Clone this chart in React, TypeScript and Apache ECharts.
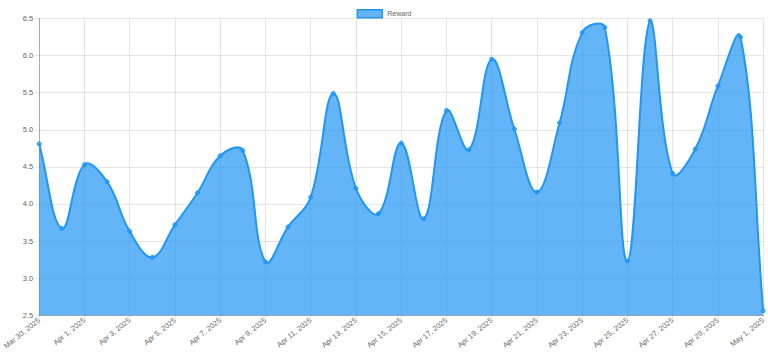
import React, { useEffect, useRef } from "react";
import * as echarts from "echarts";

const categories: string[] = [
  "Mar 30, 2025", "Mar 31, 2025", "Apr 1, 2025", "Apr 2, 2025", "Apr 3, 2025", "Apr 4, 2025",
  "Apr 5, 2025", "Apr 6, 2025", "Apr 7, 2025", "Apr 8, 2025", "Apr 9, 2025", "Apr 10, 2025",
  "Apr 11, 2025", "Apr 12, 2025", "Apr 13, 2025", "Apr 14, 2025", "Apr 15, 2025", "Apr 16, 2025",
  "Apr 17, 2025", "Apr 18, 2025", "Apr 19, 2025", "Apr 20, 2025", "Apr 21, 2025", "Apr 22, 2025",
  "Apr 23, 2025", "Apr 24, 2025", "Apr 25, 2025", "Apr 26, 2025", "Apr 27, 2025", "Apr 28, 2025",
  "Apr 29, 2025", "Apr 30, 2025", "May 1, 2025",
];

const rewardValues: number[] = [
  4.81, 3.67, 4.53, 4.3, 3.63, 3.28, 3.72, 4.15, 4.65, 4.72, 3.22, 3.69,
  4.09, 5.49, 4.21, 3.87, 4.82, 3.8, 5.26, 4.73, 5.95, 5.01, 4.16, 5.09,
  6.31, 6.38, 3.23, 6.47, 4.41, 4.74, 5.59, 6.25, 2.56,
];

const seriesName = "Reward";
const yMin = 2.5;
const yMax = 6.5;
const yStep = 0.5;

const LINE = "#2196f3";
const FILL = "rgba(33,150,243,0.7)";
const TENSION = 0.4;

function buildPaths(pts: number[][], area: { x: number; y: number; width: number; height: number }) {
  const n = pts.length;
  const cpPrev: number[][] = [];
  const cpNext: number[][] = [];
  const clamp = (p: number[]) => [
    Math.min(Math.max(p[0], area.x), area.x + area.width),
    Math.min(Math.max(p[1], area.y), area.y + area.height),
  ];
  for (let i = 0; i < n; i++) {
    const cur = pts[i];
    const prev = i > 0 ? pts[i - 1] : cur;
    const next = i < n - 1 ? pts[i + 1] : cur;
    const d01 = Math.hypot(cur[0] - prev[0], cur[1] - prev[1]);
    const d12 = Math.hypot(next[0] - cur[0], next[1] - cur[1]);
    let s01 = d01 / (d01 + d12);
    let s12 = d12 / (d01 + d12);
    if (isNaN(s01)) s01 = 0;
    if (isNaN(s12)) s12 = 0;
    const fa = TENSION * s01;
    const fb = TENSION * s12;
    cpPrev.push(clamp([cur[0] - fa * (next[0] - prev[0]), cur[1] - fa * (next[1] - prev[1])]));
    cpNext.push(clamp([cur[0] + fb * (next[0] - prev[0]), cur[1] + fb * (next[1] - prev[1])]));
  }
  let d = `M${pts[0][0]},${pts[0][1]}`;
  for (let i = 1; i < n; i++) {
    d += ` C${cpNext[i - 1][0]},${cpNext[i - 1][1]} ${cpPrev[i][0]},${cpPrev[i][1]} ${pts[i][0]},${pts[i][1]}`;
  }
  return d;
}

export default function App() {
  const ref = useRef<HTMLDivElement>(null);
  useEffect(() => {
    if (!ref.current) return;
    const chart = echarts.init(ref.current, undefined, { renderer: "svg" });
    const font = "'Liberation Sans', Arial, Helvetica, sans-serif";
    chart.setOption({
      animation: false,
      textStyle: { fontFamily: font },
      legend: {
        top: 4,
        left: "center",
        itemWidth: 25,
        itemHeight: 8,
        itemGap: 10,
        textStyle: { fontSize: 7, color: "#666", fontFamily: font },
        data: [
          {
            name: seriesName,
            icon: "rect",
            itemStyle: { color: FILL, borderColor: LINE, borderWidth: 1.5 },
          },
        ],
      },
      grid: { left: 39, right: 4, top: 18.5, height: 301.5, containLabel: false },
      xAxis: {
        type: "category",
        data: categories,
        boundaryGap: false,
        axisLine: { show: true, lineStyle: { color: "rgba(0,0,0,0.25)", width: 1 } },
        axisTick: { show: true, interval: 1, length: 4, lineStyle: { color: "rgba(0,0,0,0.1)" } },
        axisLabel: { interval: 1, rotate: 39, fontSize: 7.5, color: "#666", margin: 4, fontFamily: font },
        splitLine: { show: true, interval: 1, lineStyle: { color: "rgba(0,0,0,0.1)", width: 1 } },
      },
      yAxis: {
        type: "value",
        min: yMin,
        max: yMax,
        interval: yStep,
        axisLine: { show: true, lineStyle: { color: "rgba(0,0,0,0.25)", width: 1 } },
        axisTick: { show: true, length: 4, lineStyle: { color: "rgba(0,0,0,0.1)" } },
        axisLabel: { fontSize: 7.5, color: "#666", margin: 6, fontFamily: font, formatter: (v: number) => v.toFixed(1) },
        splitLine: { show: true, lineStyle: { color: "rgba(0,0,0,0.1)", width: 1 } },
      },
      series: [
        {
          name: seriesName,
          type: "custom",
          data: rewardValues.map((v, i) => [i, v]),
          encode: { x: 0, y: 1 },
          itemStyle: { color: FILL, borderColor: LINE },
          renderItem: (params: any, api: any) => {
            if (params.dataIndex !== 0) return null;
            const cs = params.coordSys;
            const area = { x: cs.x, y: cs.y, width: cs.width, height: cs.height };
            const pts = rewardValues.map((v, i) => api.coord([i, v]));
            const bottom = api.coord([0, yMin])[1];
            const lineD = buildPaths(pts, area);
            const areaD = `${lineD} L${pts[pts.length - 1][0]},${bottom} L${pts[0][0]},${bottom} Z`;
            const children: any[] = [
              { type: "path", shape: { pathData: areaD }, style: { fill: FILL, stroke: "none" } },
              { type: "path", shape: { pathData: lineD }, style: { fill: "none", stroke: LINE, lineWidth: 2 } },
            ];
            pts.forEach((p) => {
              children.push({
                type: "circle",
                shape: { cx: p[0], cy: p[1], r: 2 },
                style: { fill: FILL, stroke: LINE, lineWidth: 1 },
              });
            });
            return { type: "group", children };
          },
        },
      ],
    });
    return () => chart.dispose();
  }, []);
  return <div ref={ref} style={{ width: 768, height: 352, position: "absolute", left: 0, top: 0 }} />;
}
